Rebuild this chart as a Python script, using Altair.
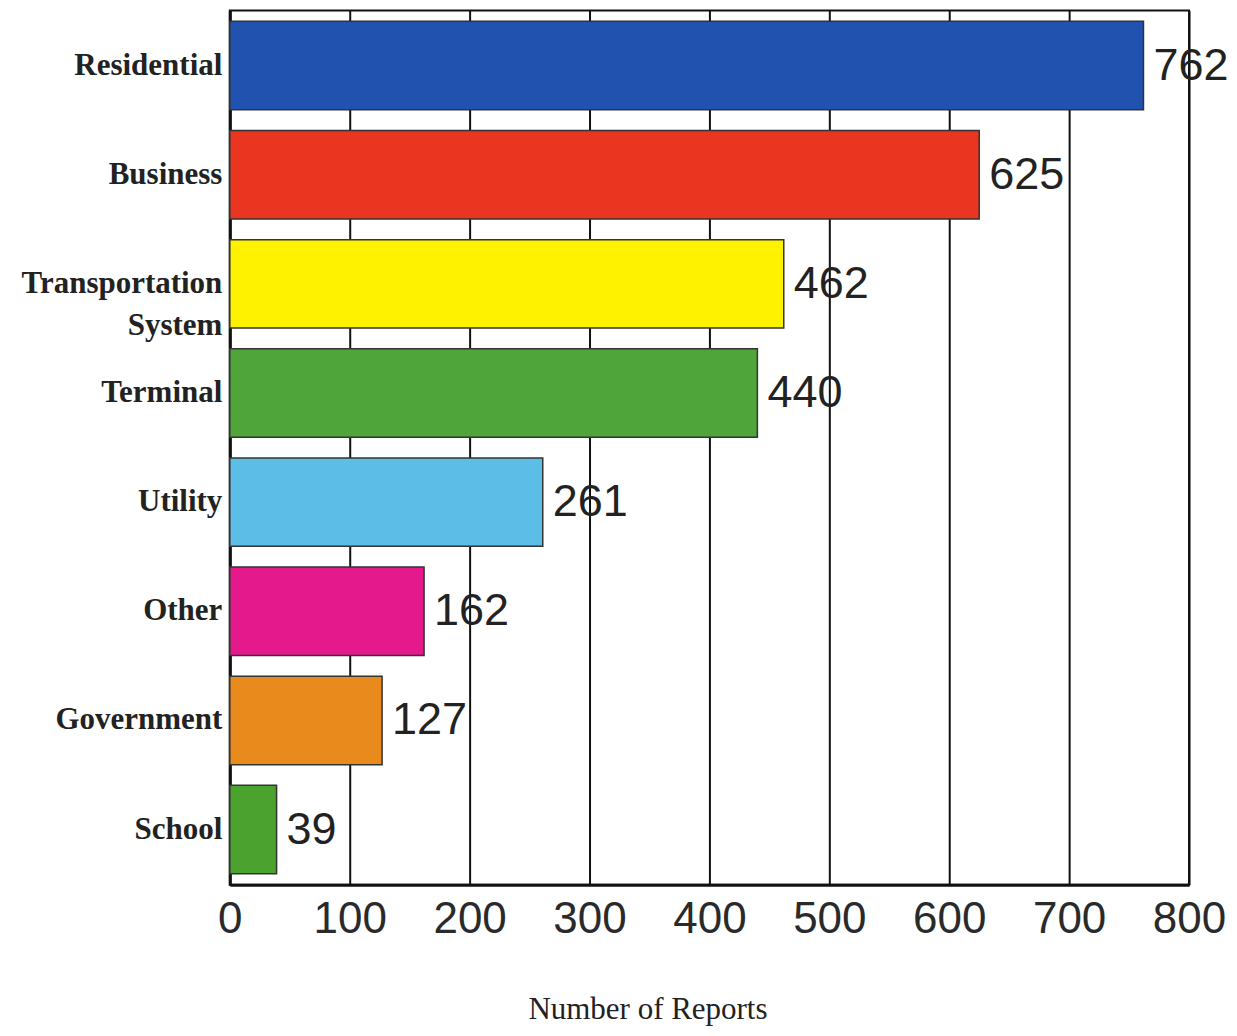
import altair as alt
import pandas as pd

categories = ["Residential", "Business", "Transportation System", "Terminal",
              "Utility", "Other", "Government", "School"]
values = [762, 625, 462, 440, 261, 162, 127, 39]
colors = ["#2152b0", "#ea3520", "#fff200", "#50a53a", "#5cbde6", "#e3198c", "#e98a1c", "#4ba22f"]
x_ticks = [0, 100, 200, 300, 400, 500, 600, 700, 800]

df = pd.DataFrame({"category": categories, "value": values, "color": colors})

y_enc = alt.Y("category:N", sort=categories, title=None,
              scale=alt.Scale(paddingInner=0.19, paddingOuter=0.1),
              axis=alt.Axis(
                  labelExpr="datum.value == 'Transportation System' ? ['Transportation', 'System'] : datum.value",
                  labelFont="Liberation Serif", labelFontWeight="bold", labelFontSize=31,
                  labelColor="#222222", labelPadding=8, ticks=False, labelLimit=400,
                  domainColor="#111111", domainWidth=3, labelLineHeight=42))

x_enc = alt.X("value:Q", title="Number of Reports",
              scale=alt.Scale(domain=[0, 800], nice=False),
              axis=alt.Axis(values=x_ticks, grid=True, gridColor="#111111", gridWidth=2,
                            gridOpacity=1, ticks=False, domainColor="#111111", domainWidth=3,
                            labelFont="Liberation Sans", labelFontSize=44, labelColor="#2a2a2a",
                            labelPadding=13, labelFlush=False,
                            titleFont="Liberation Serif", titleFontSize=31, titleFontWeight="normal",
                            titleColor="#222222", titlePadding=53, titleX=418))

bars = alt.Chart(df).mark_bar(stroke="#333333", strokeWidth=1.5).encode(
    x=x_enc, y=y_enc,
    color=alt.Color("color:N", scale=None)
)

labels = alt.Chart(df).mark_text(align="left", baseline="middle", dx=10,
                                 font="Liberation Sans", fontSize=45, color="#222222").encode(
    x="value:Q", y=alt.Y("category:N", sort=categories), text="value:Q"
)

chart = (bars + labels).properties(
    width=960, height=875,
    autosize=alt.AutoSizeParams(type="none"),
    padding={"left": 222, "top": 2, "right": 40, "bottom": 143}
).configure_view(stroke="#111111", strokeWidth=2)

chart.save("out.html", embed_options={"renderer": "svg", "actions": False})
